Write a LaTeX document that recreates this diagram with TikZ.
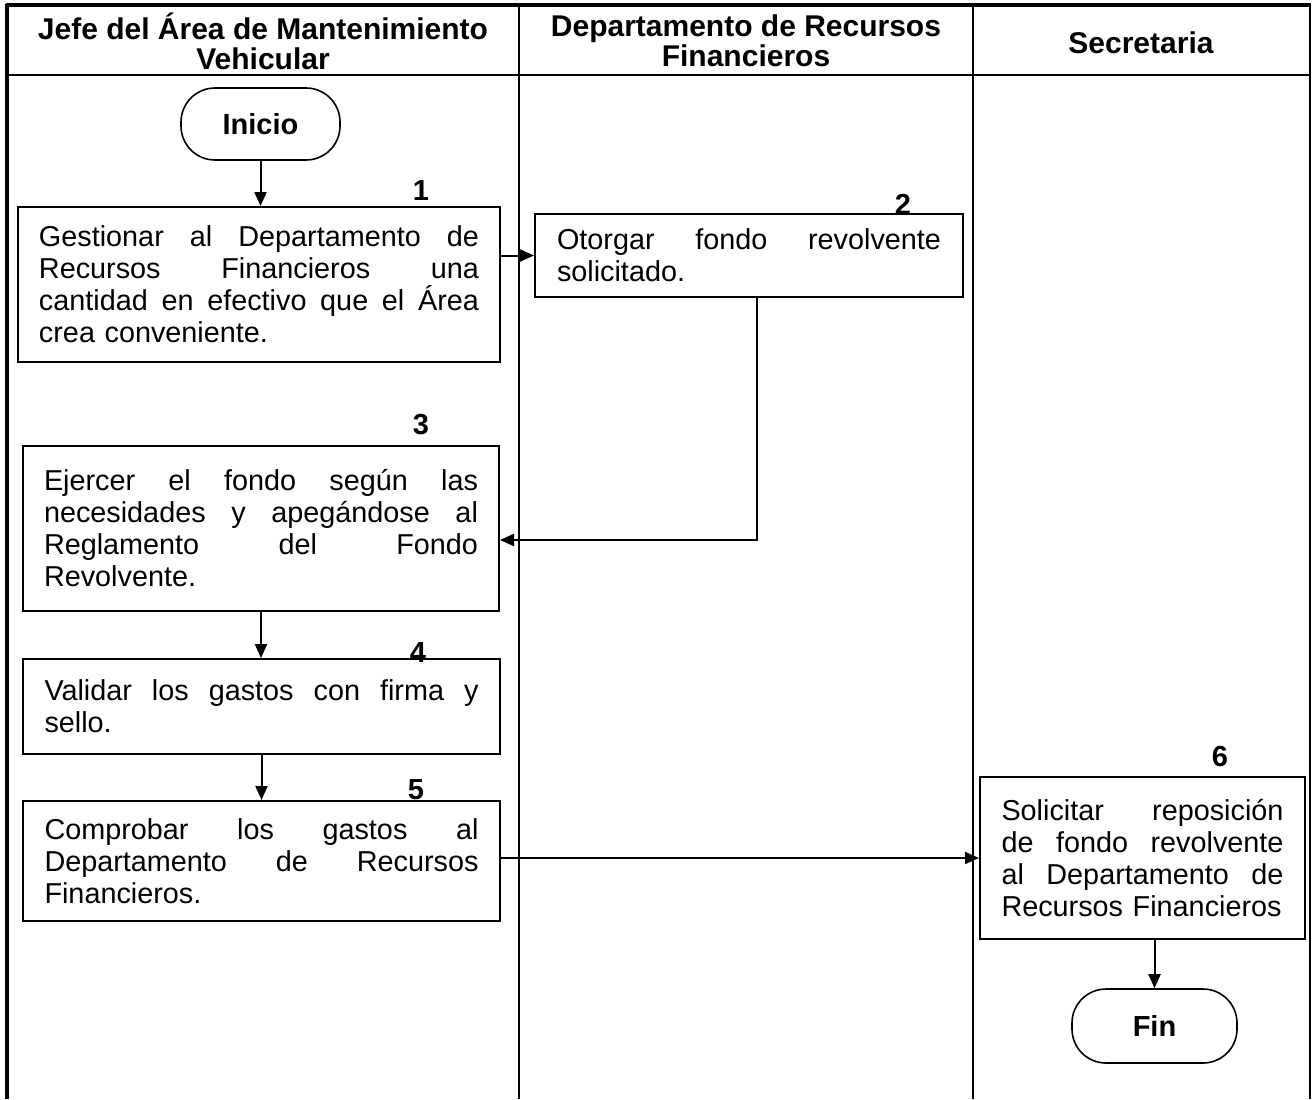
\documentclass[tikz,border=0pt]{standalone}
\usepackage{fontspec}
\setmainfont{Liberation Sans}
\usetikzlibrary{arrows.meta,calc}
\newcommand{\jl}[2]{\leavevmode\hbox to #1{\spaceskip=\fontdimen2\font plus 1fil\relax #2}\\}
\begin{document}
\begin{tikzpicture}[x=0.5pt,y=-0.5pt,
  box/.style={draw,line width=1pt,inner sep=0pt,align=left,font=\fontsize{14.4}{16}\selectfont},
  term/.style={draw,line width=0.8pt,rounded corners=17pt,inner sep=0pt,font=\bfseries\fontsize{14.5}{15}\selectfont},
  num/.style={font=\bfseries\fontsize{14.5}{15}\selectfont,inner sep=0pt},
  head/.style={font=\bfseries\fontsize{15}{15}\selectfont,align=center,inner sep=0pt},
  arr/.style={line width=1pt,-{Triangle[length=7pt,width=6pt]}},
  frame/.style={line width=1pt}]
\useasboundingbox (0,0) rectangle (1312,1099);
% frame
\draw[line width=2.2pt] (7,1099) -- (7,4);
\draw[line width=2pt] (6,5) -- (1311,5);
\draw[frame] (1310,5) -- (1310,1099);
\draw[frame] (7,75) -- (1310,75);
\draw[frame] (519,5) -- (519,1099);
\draw[frame] (973,5) -- (973,1099);
% headers
\node[head] (h1) at (263,41) {Jefe del Área de Mantenimiento\\Vehicular};
\node[head] (h2) at (746,41) {Departamento de Recursos\\Financieros};
\node[head] (h3) at (1141,43) {Secretaria};
% terminals
\node[term,minimum width=79.5pt,minimum height=36pt] (inicio) at (260.5,124) {Inicio};
\node[term,minimum width=82.5pt,minimum height=37pt] (fin) at (1154.5,1026) {Fin};
% boxes
\node[box,minimum width=241pt,minimum height=77.5pt,text width=220pt] (b1) at (259,284.5)
  {\jl{220pt}{Gestionar al Departamento de}\jl{220pt}{Recursos Financieros una}\jl{220pt}{cantidad en efectivo que el Área}crea conveniente.};
\node[box,minimum width=214pt,minimum height=41.5pt,text width=192pt] (b2) at (749,255.5)
  {\jl{192pt}{Otorgar fondo revolvente}solicitado.};
\node[box,minimum width=238pt,minimum height=82.5pt,text width=217pt] (b3) at (261,528.5)
  {\jl{217pt}{Ejercer el fondo según las}\jl{217pt}{necesidades y apegándose al}\jl{217pt}{Reglamento del Fondo}Revolvente.};
\node[box,minimum width=238.5pt,minimum height=47.5pt,text width=217pt] (b4) at (261.5,706.5)
  {\jl{217pt}{Validar los gastos con firma y}sello.};
\node[box,minimum width=238.5pt,minimum height=60pt,text width=217pt] (b5) at (261.5,861)
  {\jl{217pt}{Comprobar los gastos al}\jl{217pt}{Departamento de Recursos}Financieros.};
\node[box,minimum width=162.5pt,minimum height=81pt,text width=141pt] (b6) at (1142.5,858)
  {\jl{141pt}{Solicitar reposición}\jl{141pt}{de fondo revolvente}\jl{141pt}{al Departamento de}Recursos Financieros};
% numbers
\node[num] (n1) at (421,191) {1};
\node[num] (n2) at (903,204) {2};
\node[num] (n3) at (421,425) {3};
\node[num] (n4) at (418,653) {4};
\node[num] (n5) at (416,790) {5};
\node[num] (n6) at (1220,757) {6};
% connectors
\draw[arr] (inicio.south) -- (inicio.south |- b1.north);
\draw[arr] (b2.west -| b1.east) -- (b2.west);
\draw[arr] ([xshift=4pt]b2.south) |- ([yshift=-5.75pt]b3.east);
\draw[arr] (b3.south) -- (b3.south |- b4.north);
\draw[arr] (b4.south) -- (b4.south |- b5.north);
\draw[arr] (b6.west -| b5.east) -- (b6.west);
\draw[arr] (fin.north |- b6.south) -- (fin.north);
\end{tikzpicture}
\end{document}
